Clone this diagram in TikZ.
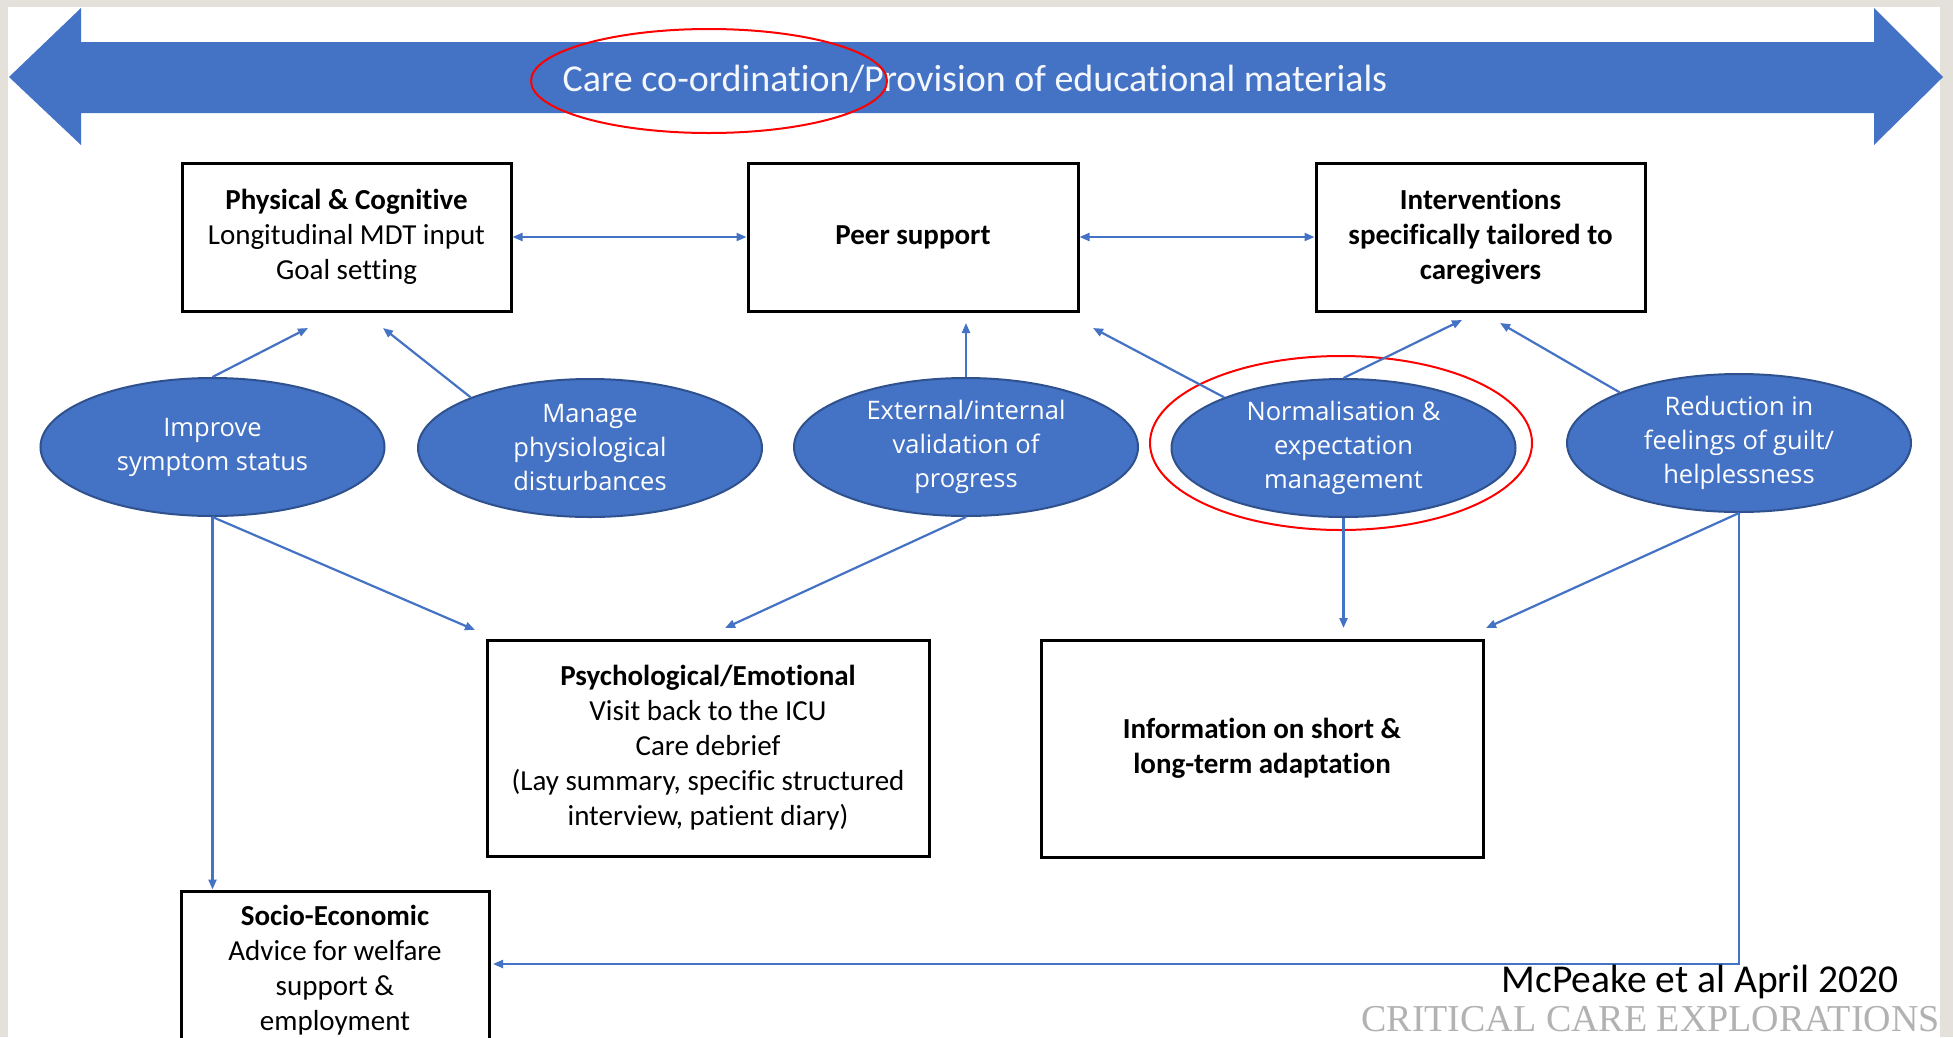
\documentclass[tikz,border=0pt]{standalone}
\usepackage{fontspec}
\setmainfont{Carlito}[Ligatures=NoCommon]
\newfontfamily\ovalfont{Open Sans}
\newfontfamily\journalfont{Liberation Serif}
\usepackage{tikz}
\usetikzlibrary{shapes.geometric}
\usetikzlibrary{arrows.meta}

\definecolor{officeblue}{RGB}{68,114,196}
\definecolor{darkblue}{RGB}{47,82,143}
\definecolor{slidegrey}{RGB}{227,225,218}

\tikzset{
  boxnode/.style={draw=black, line width=3pt, fill=white, align=center,
    inner sep=0pt, font=\fontsize{29}{35}\selectfont},
  ovalnode/.style={ellipse, draw=darkblue, line width=2pt, fill=officeblue,
    text=white, align=center, inner sep=0pt,
    minimum width=344pt, minimum height=138pt,
    font=\ovalfont\fontsize{25.5}{34}\selectfont},
  link/.style={officeblue, line width=2.2pt, -{Triangle[length=10pt,width=8pt]}},
  twolink/.style={link, {Triangle[length=10pt,width=8pt]}-{Triangle[length=10pt,width=8pt]}},
}

\begin{document}
\begin{tikzpicture}[x=1pt, y=-1pt]
                % Slide background
                \clip (0,0) rectangle (1953,1037);
                \fill[slidegrey] (0,0) rectangle (1953,1037);
                \fill[white] (8,7) rectangle (1940,1037);

                % Care co-ordination arrow
                \fill[officeblue] (9,77) -- (81,8) -- (81,42) -- (1874,42) -- (1874,8) -- (1943,77)
                    -- (1874,145) -- (1874,113) -- (81,113) -- (81,145) -- cycle;
                \node[text=white!94!officeblue, font=\fontsize{38}{44}\selectfont] (care) at (975,79)
                    {Care co-ordination/Provision of educational materials};
                \draw[red, line width=2pt] (709,81) ellipse [x radius=178, y radius=52];

                % Top row of boxes
                \node[boxnode, minimum width=329pt, minimum height=148pt] (phys) at (346.5,237)
                    {\textbf{Physical \& Cognitive}\\Longitudinal MDT input\\Goal setting};
                \node[boxnode, minimum width=330pt, minimum height=148pt] (peer) at (913,237)
                    {\textbf{Peer support}};
                \node[boxnode, minimum width=329pt, minimum height=148pt] (interv) at (1480.5,237)
                    {\textbf{Interventions}\\\textbf{specifically tailored to}\\\textbf{caregivers}};
                \draw[twolink] (phys.east) -- (peer.west);
                \draw[twolink] (peer.east) -- (interv.west);

                % Ovals
                \node[ovalnode] (improve) at (212.5,447) {Improve\\symptom status};
                \node[ovalnode] (manage) at (590,448) {Manage\\physiological\\disturbances};
                \node[ovalnode] (external) at (966,447) {External/internal\\validation of\\progress};
                \node[ovalnode] (normal) at (1343.5,448) {Normalisation \&\\expectation\\management};
                \node[ovalnode] (reduct) at (1739,443) {Reduction in\\feelings of guilt/\\helplessness};
                \draw[red, line width=2pt] (1341,443) ellipse [x radius=191, y radius=87];

                % Lower boxes
                \node[boxnode, minimum width=442pt, minimum height=216pt] (psych) at (708,748)
                    {\textbf{Psychological/Emotional}\\Visit back to the ICU\\Care debrief\\(Lay summary, specific structured\\interview, patient diary)};
                \node[boxnode, minimum width=442pt, minimum height=217pt] (info) at (1262,748.5)
                    {\textbf{Information on short \&}\\\textbf{long-term adaptation}};
                \node[boxnode, minimum width=308pt, minimum height=158pt] (socio) at (335,970)
                    {\textbf{Socio-Economic}\\Advice for welfare\\support \&\\employment};

                % Arrow ends below the boxes
                \coordinate (physin1) at (308,328);
                \coordinate (physin2) at (383,328);
                \coordinate (peerin1) at (966,323);
                \coordinate (peerin2) at (1093,328);
                \coordinate (intin1) at (1462,320);
                \coordinate (intin2) at (1500,323);
                \coordinate (psyin1) at (475,630);
                \coordinate (psyin2) at (725,628);
                \coordinate (infin1) at (1343.5,628);
                \coordinate (infin2) at (1486,628);
                \coordinate (sociorow) at (489,964);

                % Links
                \draw[link] (improve.north) -- (physin1);
                \draw[link] (manage.157) -- (physin2);
                \draw[link] (external.north) -- (peerin1);
                \draw[link] (normal.157) -- (peerin2);
                \draw[link] (normal.north) -- (intin1);
                \draw[link] (reduct.157) -- (intin2);
                \draw[link] (improve.south) -- (improve.south |- socio.north);
                \draw[link] (improve.south) -- (psyin1);
                \draw[link] (external.south) -- (psyin2);
                \draw[link] (normal.south) -- (infin1);
                \draw[link] (reduct.south) -- (infin2);
                \draw[link, shorten >=4pt] (reduct.south) |- (sociorow);

                % Credits
                \node[anchor=base east, inner sep=0pt, font=\fontsize{39.5}{45}\selectfont] (credit) at (1899,992)
                    {McPeake et al April 2020};
                \node[anchor=base east, inner sep=0pt, text=gray!60, font=\journalfont\fontsize{38}{44}\selectfont] (journal) at (1940,1031)
                    {CRITICAL CARE EXPLORATIONS};
            \end{tikzpicture}
\end{document}
